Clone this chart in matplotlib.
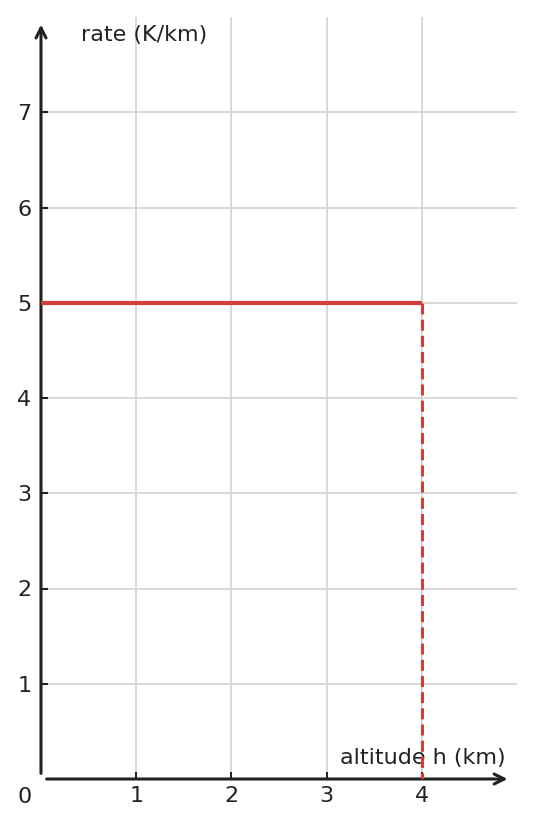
import matplotlib
matplotlib.use('Agg')
import matplotlib.pyplot as plt

# lapse rate profile
alt_solid = [0, 4]
rate_solid = [5, 5]
alt_drop = [4, 4]
rate_drop = [5, 0]
xticks = [1, 2, 3, 4]
yticks = [1, 2, 3, 4, 5, 6, 7]

ink = '#222222'
red = '#d63c3c'
fs = 16

fig = plt.figure(figsize=(5.35, 8.27), dpi=100)
ax = fig.add_axes([41/535, 48/827, 476/535, 762/827])
ax.set_xlim(0, 5)
ax.set_ylim(0, 8)

for s in ax.spines.values():
    s.set_visible(False)

ax.set_xticks(xticks)
ax.set_yticks(yticks)
ax.tick_params(direction='in', length=5, width=1.5, color=ink, labelcolor=ink,
               labelsize=fs)
ax.tick_params(axis='x', pad=5)
ax.tick_params(axis='y', pad=7)
ax.grid(True, color='#d6d6d6', lw=1.3)
ax.set_axisbelow(True)

# axes with arrow heads
ax.annotate('', xy=(0, 7.95), xytext=(0, 0.03),
            arrowprops=dict(arrowstyle='->', lw=2.2, color=ink, mutation_scale=18))
ax.annotate('', xy=(4.93, 0), xytext=(0.03, 0),
            arrowprops=dict(arrowstyle='->', lw=2.2, color=ink, mutation_scale=18))

ax.text(-0.17, -0.19, '0', ha='center', va='center', fontsize=fs, color=ink)
ax.text(0.42, 7.81, 'rate (K/km)', ha='left', va='center', fontsize=fs, color=ink)
ax.text(4.88, 0.22, 'altitude h (km)', ha='right', va='center', fontsize=fs, color=ink)

ax.plot(alt_solid, rate_solid, color=red, lw=3, solid_capstyle='butt', zorder=5)
ax.plot(alt_drop, rate_drop, color=red, lw=2.2, ls=(0, (3.6, 1.7)), zorder=5)

plt.savefig('out.png', dpi=100)
